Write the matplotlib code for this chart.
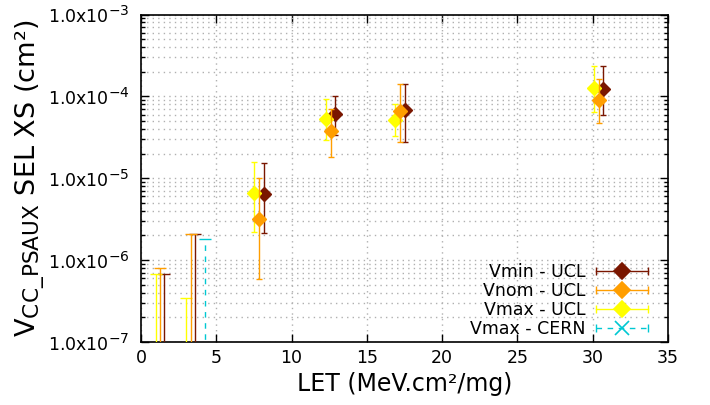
import matplotlib
matplotlib.use("Agg")
import matplotlib.pyplot as plt
from matplotlib.lines import Line2D
from matplotlib.legend_handler import HandlerBase
from matplotlib.ticker import FixedLocator, LogLocator, NullFormatter, FixedFormatter
import numpy as np

try:  # gnuplot-like sub/superscript scale (0.8 instead of 0.7)
    import matplotlib._mathtext as _mt
    _mt.SHRINK_FACTOR = 0.8
except Exception:
    pass

# ---------------- data ----------------
series_names = ["Vmin - UCL", "Vnom - UCL", "Vmax - UCL", "Vmax - CERN"]

let_vmin = [8.15, 12.90, 17.51, 30.70]
xs_vmin = [6.43e-6, 6.04e-5, 6.82e-5, 1.23e-4]
lo_vmin = [2.13e-6, 3.38e-5, 2.80e-5, 5.93e-5]
hi_vmin = [1.55e-5, 1.00e-4, 1.43e-4, 2.35e-4]

let_vnom = [7.86, 12.60, 17.20, 30.41]
xs_vnom = [3.16e-6, 3.78e-5, 6.69e-5, 9.04e-5]
lo_vnom = [5.89e-7, 1.80e-5, 2.75e-5, 4.77e-5]
hi_vnom = [1.02e-5, 7.02e-5, 1.41e-4, 1.64e-4]

let_vmax = [7.50, 12.26, 16.87, 30.08]
xs_vmax = [6.56e-6, 5.30e-5, 5.11e-5, 1.28e-4]
lo_vmax = [2.19e-6, 2.91e-5, 3.26e-5, 6.50e-5]
hi_vmax = [1.58e-5, 9.37e-5, 8.01e-5, 2.35e-4]

# upper limits (no events observed): only the upper bound is visible
ul_let_vmin = [1.55, 3.59]
ul_vmin = [6.8e-7, 2.07e-6]
ul_let_vnom = [1.28, 3.30]
ul_vnom = [8.1e-7, 2.07e-6]
ul_let_vmax = [0.98, 2.97]
ul_vmax = [6.8e-7, 3.43e-7]
ul_let_cern = [4.27]
ul_cern = [1.8e-6]
UL_FLOOR = 1e-9  # below visible range

x_ticks = [0, 5, 10, 15, 20, 25, 30, 35]
y_ticks = [1e-7, 1e-6, 1e-5, 1e-4, 1e-3]
y_tick_labels = [r"1.0x10$^{-7}$", r"1.0x10$^{-6}$", r"1.0x10$^{-5}$",
                 r"1.0x10$^{-4}$", r"1.0x10$^{-3}$"]

# ---------------- style ----------------
c_vmin = "#7a1600"
c_vnom = "#ff9e00"
c_vmax = "#ffff00"
c_cern = "#00c8d2"

plt.rcParams['font.family'] = ['DejaVu Sans']
plt.rcParams['mathtext.default'] = 'regular'

fig = plt.figure(figsize=(7.1, 4.05), dpi=100)
ax = fig.add_axes([141/710, 1-342/405, (668-141)/710, (342-14.5)/405])
ax.set_yscale('log')
ax.set_xlim(0, 35)
ax.set_ylim(1e-7, 1e-3)

# grid
ax.xaxis.set_major_locator(FixedLocator(x_ticks))
ax.yaxis.set_major_locator(FixedLocator(y_ticks))
ax.yaxis.set_major_formatter(FixedFormatter(y_tick_labels))
ax.yaxis.set_minor_locator(LogLocator(base=10, subs=np.arange(2, 10)))
ax.yaxis.set_minor_formatter(NullFormatter())
gkw = dict(color="#b0b0b0", linestyle=(0, (1, 3)), linewidth=1.0)
ax.grid(True, which='major', axis='both', **gkw)
ax.grid(True, which='minor', axis='y', **gkw)
ax.set_axisbelow(True)

ax.tick_params(which='both', direction='in', top=True, right=True, labelsize=12.5)
ax.tick_params(which='major', length=6, width=1)
ax.tick_params(which='minor', length=3, width=1)
ax.tick_params(axis='y', which='major', pad=8)
ax.tick_params(axis='x', which='major', pad=5)
for s in ax.spines.values():
    s.set_linewidth(1.2)

def draw_series(lets, vals, lo, hi, color, z):
    vals = np.array(vals); lo = np.array(lo); hi = np.array(hi)
    ax.errorbar(lets, vals, yerr=[vals - lo, hi - vals], fmt='D', color=color,
                ms=7.5, mec=color, mfc=color, elinewidth=1.0, capsize=2.5,
                capthick=1.0, zorder=z)

def draw_ul(lets, ups, color, z, dashed=False):
    ups = np.array(ups)
    eb = ax.errorbar(lets, ups, yerr=[ups - UL_FLOOR, np.zeros_like(ups)],
                     fmt='none', ecolor=color, elinewidth=1.0, capsize=4.5,
                     capthick=1.0, zorder=z)
    if dashed:
        for lc in eb[2]:
            lc.set_linestyle((0, (4, 4)))

draw_ul(ul_let_vmin, ul_vmin, c_vmin, 3)
draw_ul(ul_let_vmax, ul_vmax, c_vmax, 4)
draw_ul(ul_let_vnom, ul_vnom, c_vnom, 5)
draw_ul(ul_let_cern, ul_cern, c_cern, 6, dashed=True)

draw_series(let_vmin, xs_vmin, lo_vmin, hi_vmin, c_vmin, 3)
draw_series(let_vmax, xs_vmax, lo_vmax, hi_vmax, c_vmax, 4)
draw_series(let_vnom, xs_vnom, lo_vnom, hi_vnom, c_vnom, 5)

ax.set_xlabel("LET (MeV.cm²/mg)", fontsize=17, labelpad=4)
ax.set_ylabel(r"V$_{CC\_PSAUX}$ SEL XS (cm²)", fontsize=19.5, labelpad=1)

# ---------------- legend (gnuplot-like errorbar samples) ----------------
class ErrHandler(HandlerBase):
    def __init__(self, color, marker, ls, ms):
        super().__init__()
        self.color, self.marker, self.ls, self.ms = color, marker, ls, ms

    def create_artists(self, legend, orig_handle, xdescent, ydescent,
                       width, height, fontsize, trans):
        y = height / 2 - ydescent
        x0, x1 = -xdescent, width - xdescent
        line = Line2D([x0, x1], [y, y], color=self.color, linestyle=self.ls, lw=1.0)
        caps = Line2D([x0, x1], [y, y], linestyle='none', marker='|',
                      ms=6, mew=1.0, color=self.color)
        mk = Line2D([(x0 + x1) / 2], [y], linestyle='none', marker=self.marker,
                    ms=self.ms, color=self.color, mec=self.color, mew=1.2)
        for a in (line, caps, mk):
            a.set_transform(trans)
        return [line, caps, mk]

handles = [Line2D([], []) for _ in series_names]
hmap = {
    handles[0]: ErrHandler(c_vmin, 'D', '-', 8),
    handles[1]: ErrHandler(c_vnom, 'D', '-', 8),
    handles[2]: ErrHandler(c_vmax, 'D', '-', 8),
    handles[3]: ErrHandler(c_cern, 'x', (0, (4, 4)), 10),
}
leg = ax.legend(handles, series_names, handler_map=hmap, loc='lower right',
                bbox_to_anchor=(1 - 20/527, 4/327.5),
                frameon=False, markerfirst=False, fontsize=12.5,
                handlelength=3.0, handletextpad=0.6, labelspacing=0.05,
                borderaxespad=0.0, borderpad=0.0)
for t in leg.get_texts():
    t.set_ha('right')

fig.savefig("out.png", dpi=100)
